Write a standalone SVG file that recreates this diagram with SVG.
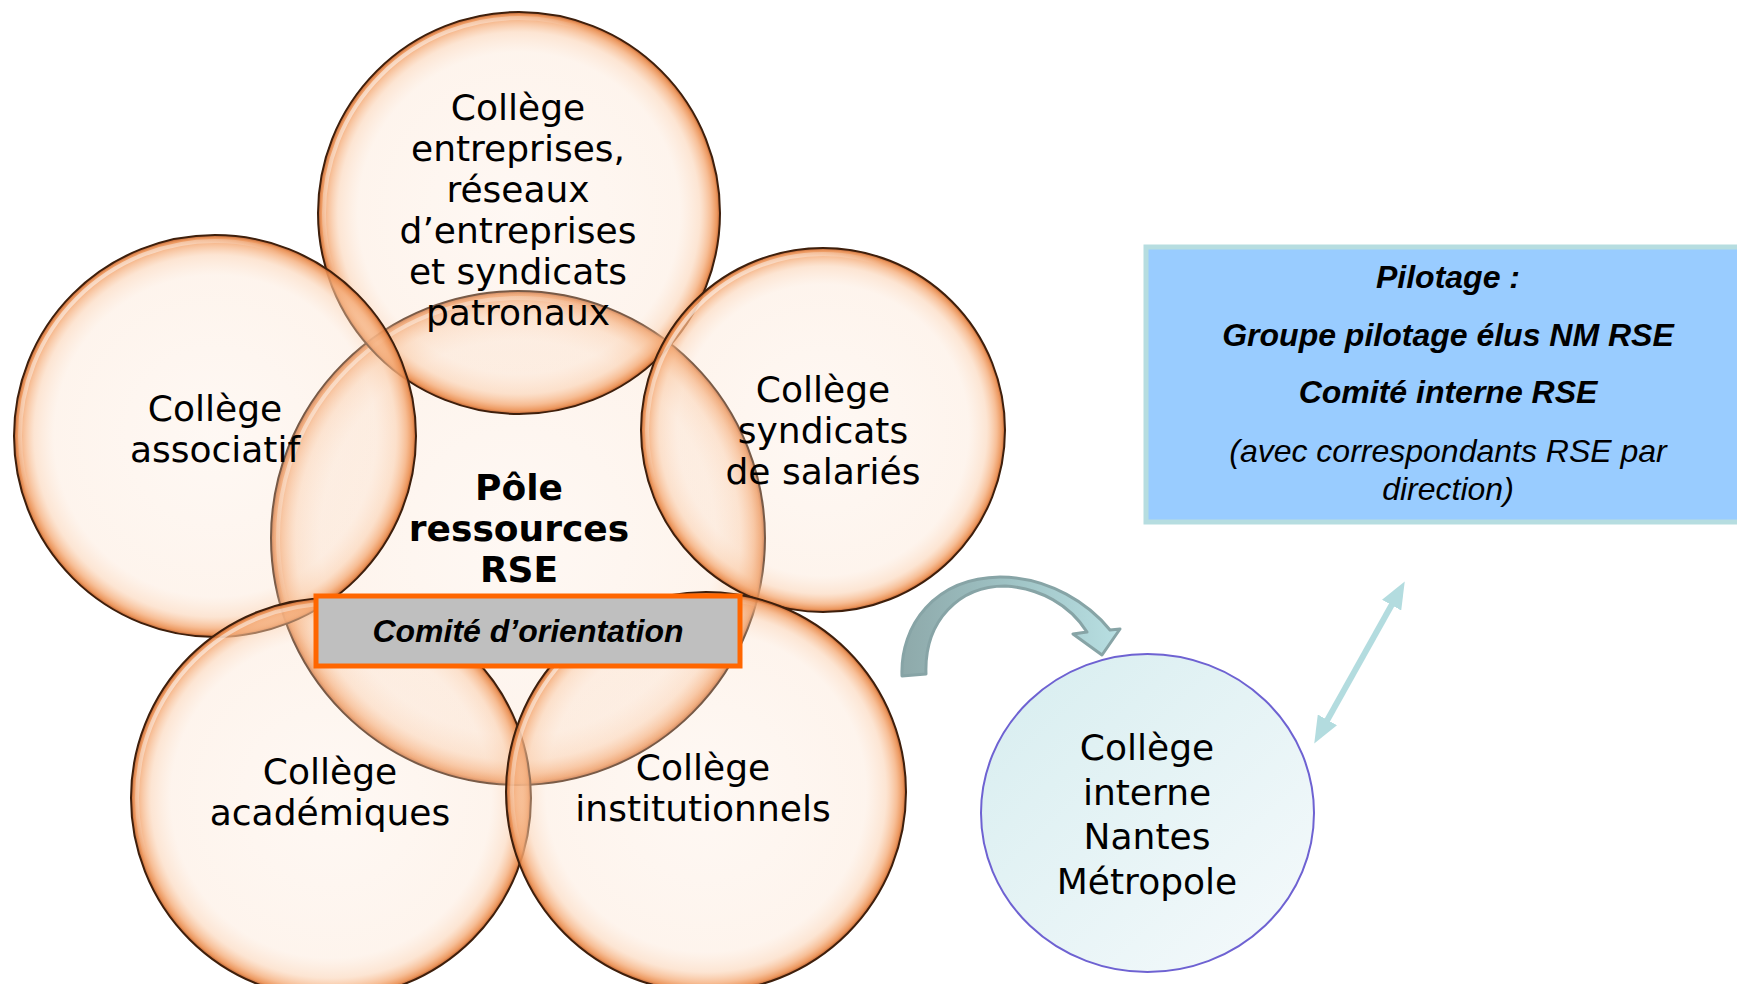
<svg xmlns="http://www.w3.org/2000/svg" width="1737" height="984" viewBox="0 0 1737 984">
<defs>
<radialGradient id="bubble" cx="0.5" cy="0.5" r="0.5">
<stop offset="0" stop-color="#FCE6D6" stop-opacity="0.28"/>
<stop offset="0.8" stop-color="#FBDDC6" stop-opacity="0.32"/>
<stop offset="0.9" stop-color="#FACBA7" stop-opacity="0.5"/>
<stop offset="0.955" stop-color="#F5AE7C" stop-opacity="0.8"/>
<stop offset="0.985" stop-color="#EA8E50" stop-opacity="0.92"/>
<stop offset="1" stop-color="#B85A28" stop-opacity="0.95"/>
</radialGradient>
<linearGradient id="gloss" x1="0" y1="0" x2="1" y2="1">
<stop offset="0" stop-color="#FFFFFF" stop-opacity="0.95"/>
<stop offset="0.35" stop-color="#FFFFFF" stop-opacity="0"/>
<stop offset="1" stop-color="#FFFFFF" stop-opacity="0"/>
</linearGradient>
<linearGradient id="teal" x1="0" y1="0" x2="1" y2="1">
<stop offset="0" stop-color="#D6EDEF"/>
<stop offset="1" stop-color="#F6FAFC"/>
</linearGradient>
<linearGradient id="arrowFill" x1="0" y1="0" x2="1" y2="0">
<stop offset="0" stop-color="#8EA9AA"/>
<stop offset="0.5" stop-color="#9FC3C5"/>
<stop offset="1" stop-color="#B8DFE2"/>
</linearGradient>
<marker id="head" viewBox="0 0 27 22" markerWidth="27" markerHeight="22" markerUnits="userSpaceOnUse" refX="7" refY="11" orient="auto-start-reverse">
<path d="M0,0 L27,11 L0,22 Z" fill="#B3DCDF"/>
</marker>
<style>
.bub{fill:url(#bubble);stroke:#3E1F0C;stroke-width:2}
.gl{fill:none;stroke:url(#gloss);stroke-width:4}
.t{font-family:"DejaVu Sans",Verdana,sans-serif;font-size:36px;fill:#000;text-anchor:middle}
.tb{font-weight:bold}
.p{font-family:"Liberation Sans",Arial,sans-serif;font-size:32px;font-style:italic;fill:#000;text-anchor:middle}
</style>
</defs>
<rect width="1737" height="984" fill="#FFFFFF"/>

<g id="pole">
<circle class="bub" cx="518" cy="538" r="247"/>
<circle class="gl" cx="518" cy="538" r="240"/>
<text class="t tb" x="519" y="500">Pôle</text>
<text class="t tb" x="519" y="541">ressources</text>
<text class="t tb" x="519" y="582">RSE</text>
</g>

<g id="college-entreprises">
<circle class="bub" cx="519" cy="213" r="201"/>
<circle class="gl" cx="519" cy="213" r="195"/>
<text class="t" x="518" y="120">Collège</text>
<text class="t" x="518" y="161">entreprises,</text>
<text class="t" x="518" y="202">réseaux</text>
<text class="t" x="518" y="243">d’entreprises</text>
<text class="t" x="518" y="284">et syndicats</text>
<text class="t" x="518" y="325">patronaux</text>
</g>

<g id="college-associatif">
<circle class="bub" cx="215" cy="436" r="201"/>
<circle class="gl" cx="215" cy="436" r="195"/>
<text class="t" x="215" y="421">Collège</text>
<text class="t" x="215" y="462">associatif</text>
</g>

<g id="college-syndicats">
<circle class="bub" cx="823" cy="430" r="182"/>
<circle class="gl" cx="823" cy="430" r="176"/>
<text class="t" x="823" y="402">Collège</text>
<text class="t" x="823" y="443">syndicats</text>
<text class="t" x="823" y="484">de salariés</text>
</g>

<g id="college-academiques">
<circle class="bub" cx="331" cy="798" r="200"/>
<circle class="gl" cx="331" cy="798" r="194"/>
<text class="t" x="330" y="784">Collège</text>
<text class="t" x="330" y="825">académiques</text>
</g>

<g id="college-institutionnels">
<circle class="bub" cx="706" cy="792" r="200"/>
<circle class="gl" cx="706" cy="792" r="194"/>
<text class="t" x="703" y="780">Collège</text>
<text class="t" x="703" y="821">institutionnels</text>
</g>

<g id="comite-orientation">
<rect x="316" y="596" width="424" height="70" fill="#BFBFBF" stroke="#FF6600" stroke-width="5"/>
<text x="528" y="642" font-family="Liberation Sans, Arial, sans-serif" font-size="32" font-weight="bold" font-style="italic" text-anchor="middle" fill="#000">Comité d’orientation</text>
</g>

<g id="college-interne">
<ellipse cx="1147.5" cy="813" rx="166.5" ry="159" fill="url(#teal)" stroke="#6E62D2" stroke-width="2"/>
<text class="t" x="1147" y="760">Collège</text>
<text class="t" x="1147" y="805">interne</text>
<text class="t" x="1147" y="849">Nantes</text>
<text class="t" x="1147" y="894">Métropole</text>
</g>

<g id="pilotage">
<rect x="1146" y="247" width="600" height="275" fill="#99CCFF" stroke="#B6DDE0" stroke-width="5"/>
<text class="p" x="1448" y="288" font-weight="bold">Pilotage :</text>
<text class="p" x="1448" y="346" font-weight="bold">Groupe pilotage élus NM RSE</text>
<text class="p" x="1448" y="403" font-weight="bold">Comité interne RSE</text>
<text class="p" x="1448" y="462">(avec correspondants RSE par</text>
<text class="p" x="1448" y="500">direction)</text>
</g>

<g id="connectors">
<path d="M902,676 C900,625 935,578 1000,577 C1050,577 1090,605 1110,630 L1120,629 L1102,655 L1073,634 L1087,632 C1070,605 1040,588 1005,586 C960,586 924,620 926,674 Z" fill="url(#arrowFill)" stroke="#87A4A6" stroke-width="3" stroke-linejoin="round"/>
<line x1="1324" y1="726" x2="1395" y2="599" stroke="#B3DCDF" stroke-width="6" marker-start="url(#head)" marker-end="url(#head)"/>
</g>
</svg>
